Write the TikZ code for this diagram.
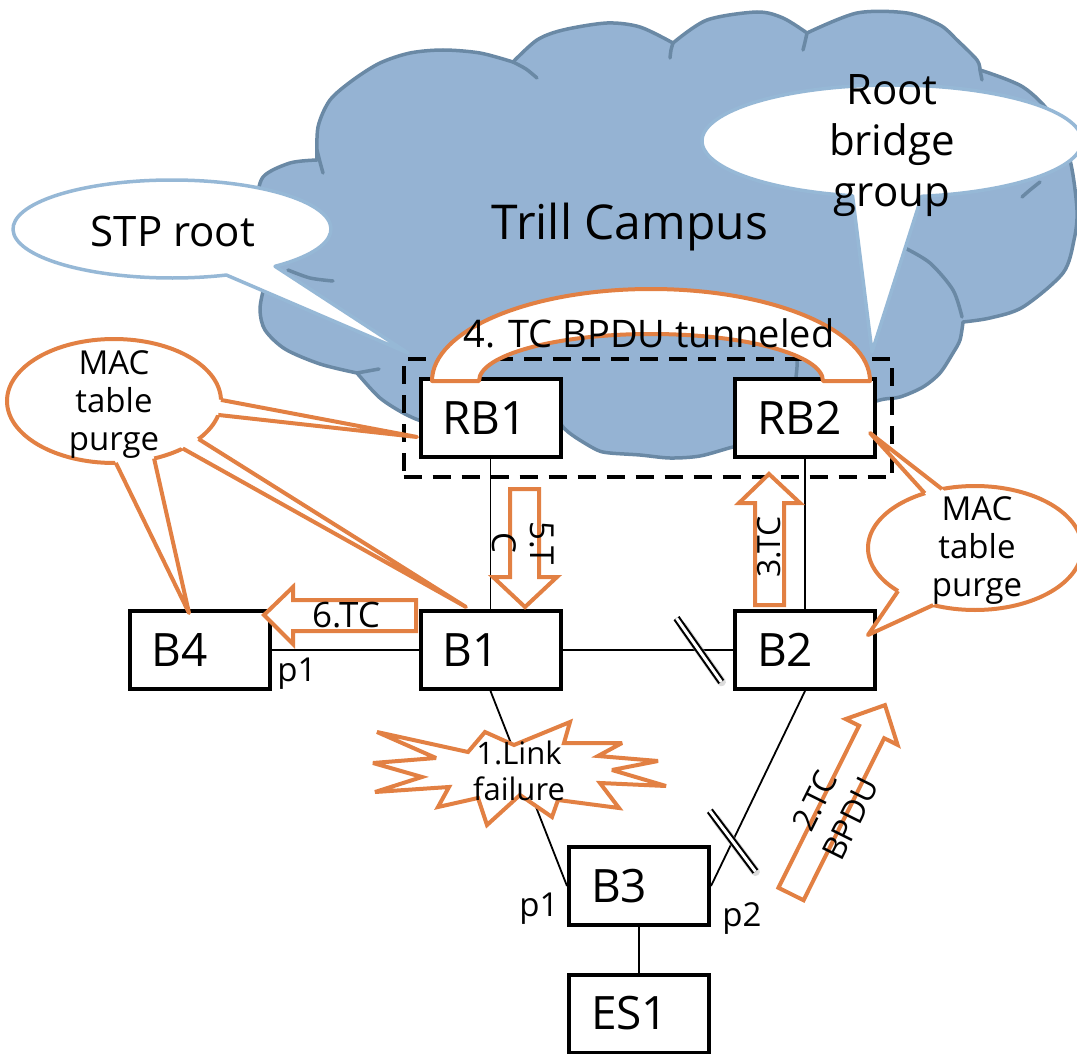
\documentclass[tikz,border=0pt]{standalone}
\usepackage{fontspec}
\setmainfont{Open Sans}
\usetikzlibrary{calc,fit}
\definecolor{cloudfill}{RGB}{149,179,211}
\definecolor{cloudline}{RGB}{106,137,165}
\definecolor{calloutline}{RGB}{150,184,214}
\definecolor{accent}{RGB}{226,128,67}
\begin{document}
\begin{tikzpicture}[x=1pt,y=1pt,
  box/.style={draw=black, line width=4pt, fill=white, minimum height=78pt,
    text width=96pt, inner xsep=22pt, inner ysep=0pt, align=left,
    font=\fontsize{46}{50}\selectfont},
  link/.style={line width=1.8pt, black},
  cloudedge/.style={draw=cloudline, line width=3.5pt, line cap=round},
  bubble/.style={fill=white, draw=calloutline, line width=3.5pt, line join=round},
  orangebubble/.style={fill=white, draw=accent, line width=4pt},
  pointer/.style={draw=accent, line width=4pt, line join=round},
  blockarrow/.style={draw=accent, fill=white, line width=4pt, line join=miter},
  grpbox/.style={draw=black, line width=4pt, dash pattern=on 18pt off 11pt},
  lbl/.style={font=\fontsize{33}{38}\selectfont, align=center, inner sep=0pt},
  breakmark/.style={draw=black, line width=2.1pt, double=white, double distance=3pt},
  breakshadow/.style={draw=gray!60, line width=9pt, opacity=0.45, line cap=round},
]
\useasboundingbox (0,0) rectangle (1077,-1054);

% ---------- the Trill campus cloud ----------
\filldraw[fill=cloudfill, cloudedge, line join=round]
  plot[smooth] coordinates {(530,-400) (500,-418) (470,-425) (430,-423) (407,-415) (380,-398) (357,-373)}
  -- plot[smooth] coordinates {(357,-373) (320,-364) (285,-349) (265,-330) (260,-310) (264,-288) (272,-270)}
  -- plot[smooth] coordinates {(272,-270) (262,-238) (257,-205) (263,-177) (290,-163) (317,-160)}
  -- plot[smooth] coordinates {(317,-160) (318,-127) (330,-100) (353,-80) (380,-63) (410,-53) (443,-50) (480,-53) (513,-62)}
  -- plot[smooth] coordinates {(513,-62) (537,-40) (563,-30) (607,-23) (640,-27) (673,-43)}
  -- plot[smooth] coordinates {(673,-43) (707,-20) (757,-12) (783,-18) (807,-33)}
  -- plot[smooth] coordinates {(807,-33) (857,-13) (907,-13) (940,-25) (957,-40) (977,-60) (980,-70)}
  -- plot[smooth] coordinates {(980,-70) (1023,-87) (1053,-117) (1070,-160) (1077,-210) (1074,-240) (1063,-273) (1023,-307) (990,-318) (963,-322)}
  -- plot[smooth] coordinates {(963,-322) (960,-340) (953,-353) (940,-373) (923,-387) (900,-397) (880,-400) (840,-413) (800,-425)}
  -- plot[smooth] coordinates {(800,-425) (765,-440) (733,-447) (700,-456) (670,-458) (640,-455) (610,-453) (597,-450) (575,-437) (563,-427) (552,-410) (530,-400)}
  -- cycle;
% inner folds of the cloud
\draw[cloudedge] plot[smooth] coordinates {(357,-373) (368,-371) (379,-369)};
\draw[cloudedge] plot[smooth] coordinates {(288,-270) (310,-278) (333,-281)};
\draw[cloudedge] plot[smooth] coordinates {(317,-150) (320,-162) (323,-173)};
\draw[cloudedge] plot[smooth] coordinates {(513,-62) (526,-69) (537,-78)};
\draw[cloudedge] plot[smooth] coordinates {(673,-43) (671,-50) (670,-58)};
\draw[cloudedge] plot[smooth] coordinates {(807,-33) (805,-42) (803,-50)};
\draw[cloudedge] plot[smooth] coordinates {(980,-70) (981,-75) (982,-80)};
\draw[cloudedge] plot[smooth] coordinates {(1022,-197) (1030,-190) (1040,-182)};
\draw[cloudedge] plot[smooth] coordinates {(905,-248) (930,-263) (953,-290) (962,-317)};
\draw[cloudedge] plot[smooth] coordinates {(797,-357) (797,-367) (796,-377)};

\node[font=\fontsize{48}{56}\selectfont, inner sep=0pt] (campus) at (630,-227) {Trill Campus};

% ---------- callouts in the cloud ----------
\coordinate (stpc) at (172,-229);
\coordinate (stptip) at (408,-353);
\filldraw[bubble] ($(stpc)+(-70:159 and 49)$) -- (stptip) -- ($(stpc)+(-49.6:159 and 49)$)
  arc[start angle=-49.6, end angle=290, x radius=159, y radius=49] -- cycle;
\node[font=\fontsize{42}{48}\selectfont, inner sep=0pt] (stptext) at (173,-231) {STP root};

\coordinate (rbc) at (892,-141);
\coordinate (rbtip) at (872,-352);
\filldraw[bubble] ($(rbc)+(-102:190 and 56)$) -- (rbtip) -- ($(rbc)+(-81:190 and 56)$)
  arc[start angle=-81, end angle=258, x radius=190, y radius=56] -- cycle;
\node[font=\fontsize{42}{51}\selectfont, align=center, inner sep=0pt] (rbtext) at (892,-146) {Root\\bridge\\group};

% ---------- bridges ----------
\node[box] (RB1) at (490.5,-418) {RB1};
\node[box] (RB2) at (805,-418) {RB2};
\node[box] (B1)  at (490.5,-650) {B1};
\node[box] (B2)  at (805,-650) {B2};
\node[box] (B4)  at (199.5,-650) {B4};
\node[box] (B3)  at (639,-886) {B3};
\node[box] (ES1) at (639,-1013.5) {ES1};

\node[grpbox, fit=(RB1)(RB2), inner xsep=15pt, inner ysep=18pt] (group) {};

% tunnel between the two RBridges
\filldraw[fill=white, draw=accent, line width=4pt, line join=round]
  (432,-381) arc[start angle=180, end angle=0, x radius=219, y radius=92]
  -- (823,-381) arc[start angle=0, end angle=180, x radius=172, y radius=47] -- cycle;
\node[font=\fontsize{38}{44}\selectfont, inner sep=0pt] (tunnel) at (649,-333.5) {4. TC BPDU tunneled};

% ---------- links ----------
\draw[link] (RB1) -- (B1);
\draw[link] (RB2) -- (B2);
\draw[link] (B4) -- (B1);
\draw[link] (B1) -- (B2);
\draw[link] (B1.south) -- (B3.west);
\draw[link] (B2.south) -- (B3.east);
\draw[link] (B3) -- (ES1);

% blocked ports
\path (B1.east) -- (B2.west) coordinate[pos=0.8] (brk1);
\path (B2.south) -- (B3.east) coordinate[pos=0.77] (brk2);
\draw[breakshadow] ($(brk1)+(125.1:34)+(3,-4)$) -- ($(brk1)+(-54.9:34)+(3,-4)$);
\draw[breakmark] ($(brk1)+(125.1:39)$) -- ($(brk1)+(-54.9:39)$);
\draw[breakshadow] ($(brk2)+(126.9:33)+(3,-4)$) -- ($(brk2)+(-53.1:33)+(3,-4)$);
\draw[breakmark] ($(brk2)+(126.9:38)$) -- ($(brk2)+(-53.1:38)$);

% ---------- TC propagation arrows ----------
\draw[blockarrow] (264,-615) -- (293,-587) -- (293,-600) -- (416,-600) -- (416,-631)
  -- (293,-631) -- (293,-644) -- cycle;
\node[lbl, font=\fontsize{35}{40}\selectfont] (tc6) at (346,-615) {6.TC};

\draw[blockarrow] (510,-489) -- (539,-489) -- (539,-577) -- (557,-577) -- (525,-607)
  -- (493,-577) -- (510,-577) -- cycle;
\node[lbl, rotate=-90] (tc5) at (523,-543) {5.T\\C};

\draw[blockarrow] (769,-474) -- (800,-503) -- (784,-503) -- (784,-605) -- (755,-605)
  -- (755,-503) -- (739,-503) -- cycle;
\node[lbl, font=\fontsize{32}{38}\selectfont, rotate=90] (tc3) at (769,-547) {3.TC};

\begin{scope}[shift={(791,-894)}, rotate=63.55]
  \draw[blockarrow] (0,-14) -- (181,-14) -- (181,-29) -- (211,0) -- (181,29)
    -- (181,14) -- (0,14) -- cycle;
  \node[lbl, font=\fontsize{32}{40}\selectfont, rotate=63.55] (tc2) at (94,0) {2.TC\\BPDU};
\end{scope}

% ---------- MAC table purge callouts ----------
\coordinate (macL) at (114,-401);
\coordinate (tipL1) at (417,-437);
\coordinate (tipL2) at (466,-607);
\coordinate (tipL3) at (189,-613);
\filldraw[orangebubble] (macL) ellipse[x radius=107, y radius=62];
\foreach \a/\b/\t in {1/-13/tipL1, -37.8/-50/tipL2, -68/-89/tipL3}{
  \coordinate (pa) at ($(macL)+(\a:107 and 62)$);
  \coordinate (pb) at ($(macL)+(\b:107 and 62)$);
  \fill[white] ($(\t)!1.05!(pa)$) -- (\t) -- ($(\t)!1.05!(pb)$) -- cycle;
  \draw[pointer] (pa) -- (\t) -- (pb);
}
\node[lbl] (macLtext) at (114,-405) {MAC\\table\\purge};

\coordinate (macR) at (975,-548);
\coordinate (tipR1) at (870,-433);
\coordinate (tipR2) at (868,-635);
\filldraw[orangebubble] (macR) ellipse[x radius=107, y radius=62];
\foreach \a/\b/\t in {118/108/tipR1, -136/-113/tipR2}{
  \coordinate (pa) at ($(macR)+(\a:107 and 62)$);
  \coordinate (pb) at ($(macR)+(\b:107 and 62)$);
  \fill[white] ($(\t)!1.05!(pa)$) -- (\t) -- ($(\t)!1.05!(pb)$) -- cycle;
  \draw[pointer] (pa) -- (\t) -- (pb);
}
\node[lbl] (macRtext) at (977,-551) {MAC\\table\\purge};

% ---------- link failure burst ----------
\filldraw[fill=white, draw=accent, line width=4pt, line join=miter, miter limit=4]
  (377,-732) -- (468,-752) -- (485,-732) -- (514,-745) -- (570,-722) -- (564,-743)
  -- (622,-743) -- (598,-756) -- (658,-761) -- (612,-770) -- (666,-786) -- (600,-783)
  -- (619,-808) -- (558,-800) -- (552,-817) -- (520,-795) -- (487,-825) -- (478,-798)
  -- (438,-807) -- (449,-787) -- (375,-792) -- (422,-777) -- (373,-763) -- (436,-758) -- cycle;
\node[lbl, font=\fontsize{31}{36}\selectfont] (fail) at (519,-771) {1.Link\\failure};

% ---------- port labels ----------
\node[lbl] (p1a) at (297,-674) {p1};
\node[lbl] (p1b) at (539,-909) {p1};
\node[lbl] (p2)  at (742,-919) {p2};
\end{tikzpicture}
\end{document}
